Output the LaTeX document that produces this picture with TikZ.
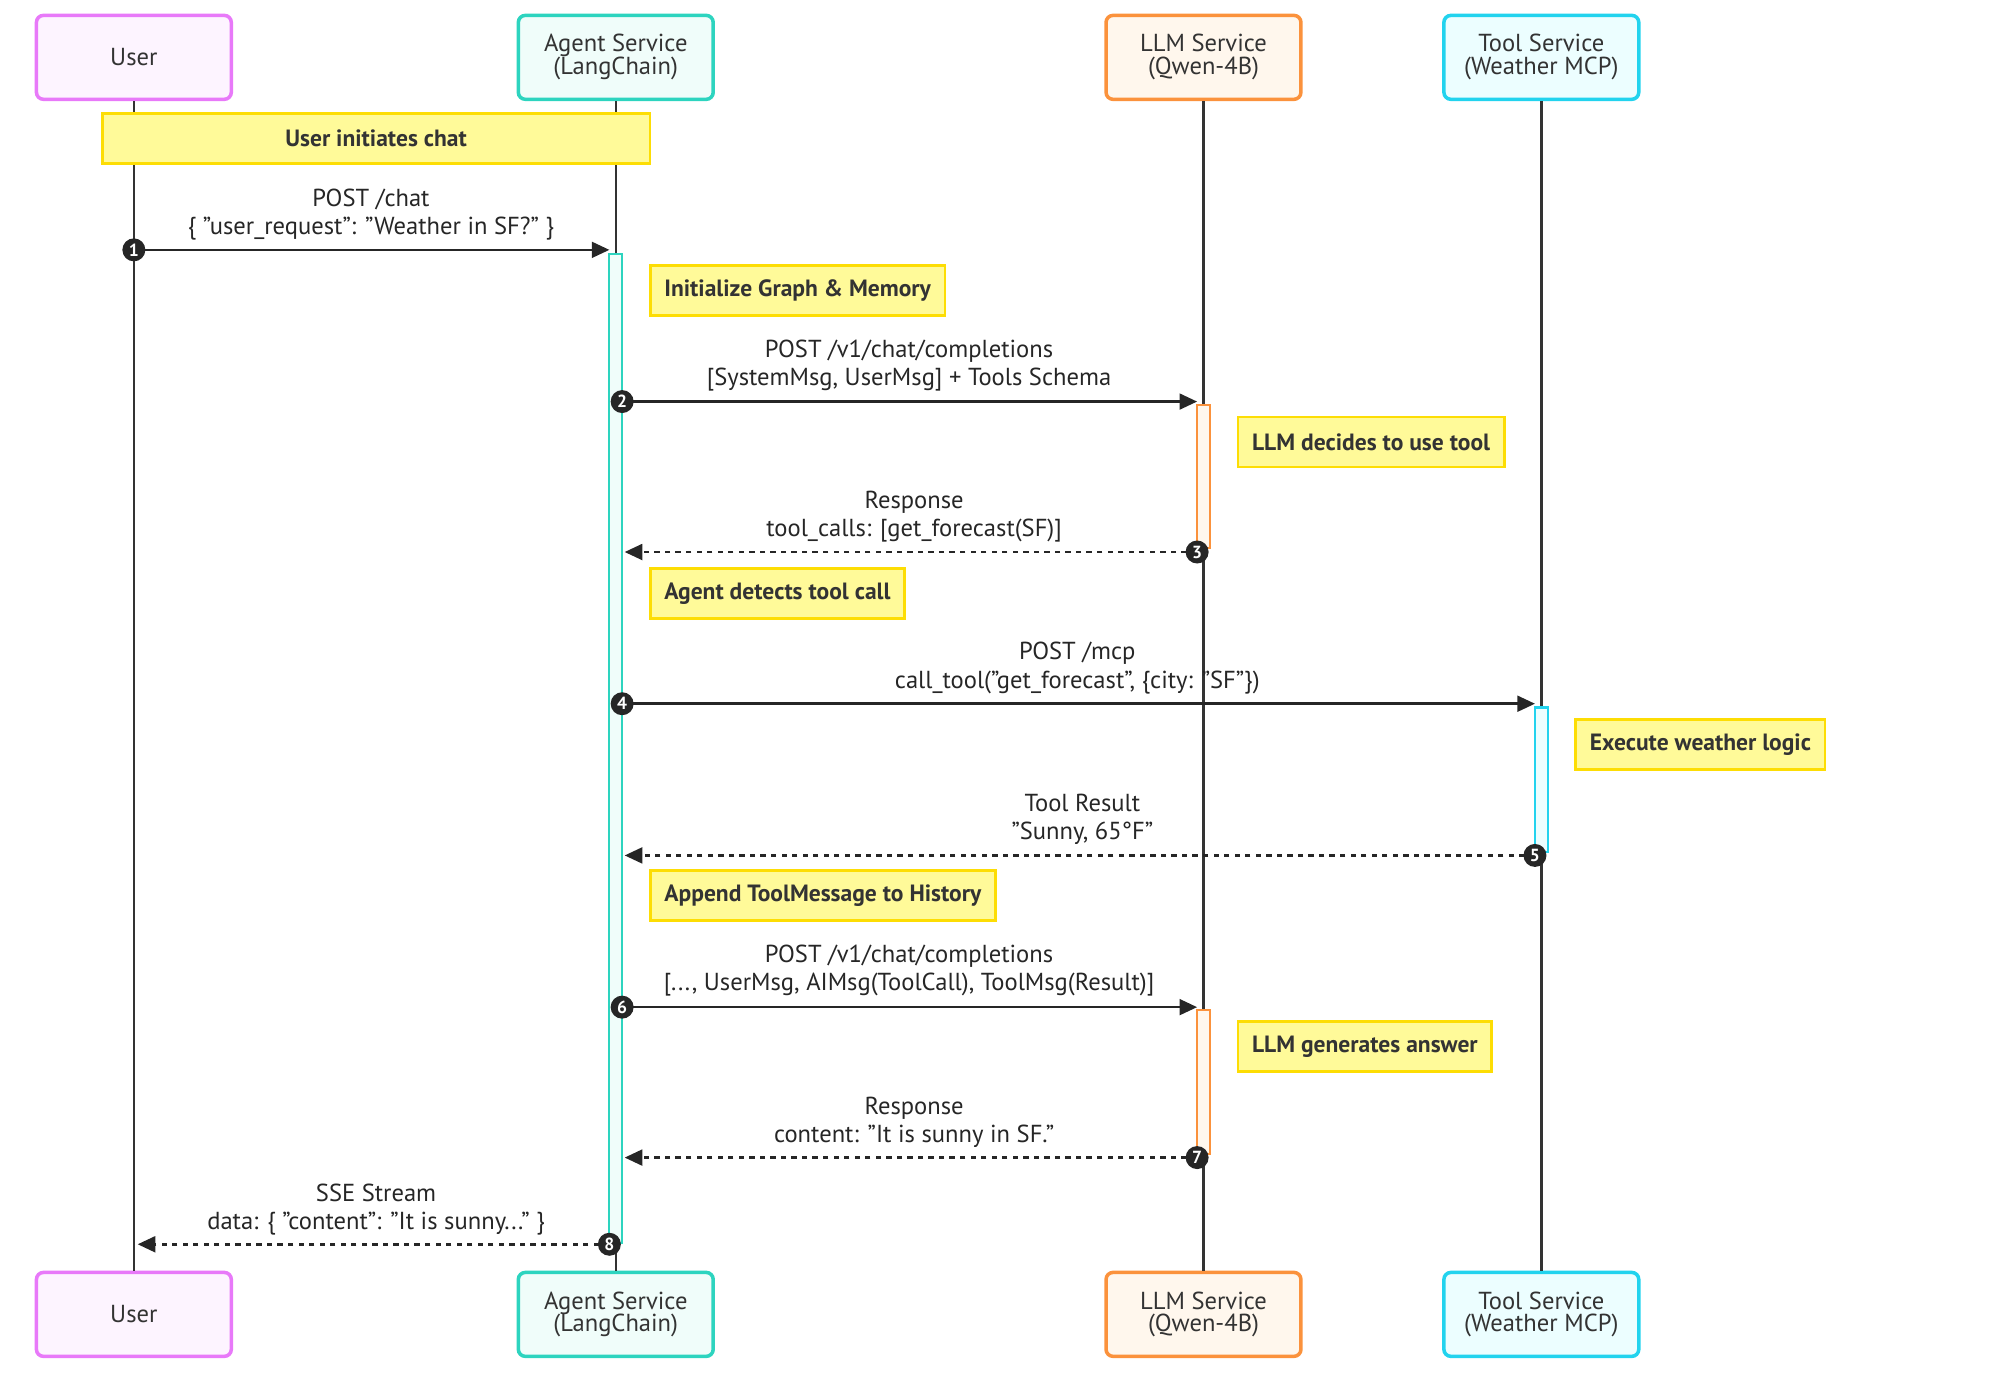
\documentclass[tikz,border=0pt]{standalone}
\usepackage{fontspec}
\defaultfontfeatures{}
\setmainfont{PT Sans}
\usetikzlibrary{positioning, arrows.meta, calc}
\newcommand{\dq}{{\char34}}

\begin{document}
\begin{tikzpicture}[
    x=0.01275cm, y=-0.01275cm,
    >={Triangle[length=5pt,width=4.5pt]},
    font=\fontsize{7}{8}\selectfont,
    actor/.style={rectangle, rounded corners=2pt, line width=1pt,
        minimum width=1.95cm, minimum height=0.84cm, align=center,
        text=black!80, font=\fontsize{7}{6.5}\selectfont},
    note/.style={rectangle, draw=yellow!80!orange, fill=yellow!40, line width=0.8pt,
        font=\fontsize{6.7}{8}\selectfont\bfseries, text=black!80,
        anchor=north west, minimum height=0.5cm, inner xsep=4pt},
    lifeline/.style={draw=black!80, line width=0.7pt},
    msg/.style={->, draw=black!85, line width=0.7pt},
    reply/.style={->, draw=black!85, line width=0.7pt, dash pattern=on 1.5pt off 1.5pt},
    num/.style={circle, fill=black!85, text=white, inner sep=0pt, minimum size=0.23cm,
        font=\fontsize{5}{5}\selectfont\bfseries},
    lbl/.style={align=center, font=\fontsize{7}{8}\selectfont, text=black!85},
]

% ── Colors ──
\definecolor{userborder}{HTML}{E879F9}
\definecolor{userfill}{HTML}{FDF4FF}
\definecolor{agentborder}{HTML}{2DD4BF}
\definecolor{agentfill}{HTML}{F0FDFA}
\definecolor{llmborder}{HTML}{FB923C}
\definecolor{llmfill}{HTML}{FFF7ED}
\definecolor{toolborder}{HTML}{22D3EE}
\definecolor{toolfill}{HTML}{ECFEFF}

\useasboundingbox (0,0) rectangle (1568,1085);

% ── Participants (top and bottom) ──
\node[actor, draw=userborder, fill=userfill] (user) at (105,45) {User};
\node[actor, draw=agentborder, fill=agentfill] (agent) at (483,45) {Agent Service\\(LangChain)};
\node[actor, draw=llmborder, fill=llmfill] (llm) at (944,45) {LLM Service\\(Qwen-4B)};
\node[actor, draw=toolborder, fill=toolfill] (tool) at (1209,45) {Tool Service\\(Weather MCP)};

\node[actor, draw=userborder, fill=userfill] (userb) at (105,1031) {User};
\node[actor, draw=agentborder, fill=agentfill] (agentb) at (483,1031) {Agent Service\\(LangChain)};
\node[actor, draw=llmborder, fill=llmfill] (llmb) at (944,1031) {LLM Service\\(Qwen-4B)};
\node[actor, draw=toolborder, fill=toolfill] (toolb) at (1209,1031) {Tool Service\\(Weather MCP)};

% ── Lifelines ──
\draw[lifeline] (user) -- (userb);
\draw[lifeline] (agent) -- (agentb);
\draw[lifeline] (llm) -- (llmb);
\draw[lifeline] (tool) -- (toolb);

% ── Activation bars ──
\draw[agentborder, fill=agentfill, line width=0.6pt] (478,199) rectangle (488,975);
\draw[llmborder, fill=llmfill, line width=0.6pt] (939,318) rectangle (949,430);
\draw[toolborder, fill=toolfill, line width=0.6pt] (1204,555) rectangle (1214,668);
\draw[llmborder, fill=llmfill, line width=0.6pt] (939,792) rectangle (949,905);

% ── Notes ──
\node[note, minimum width=4.3cm*1.275, anchor=north west] (n0) at (79,88) {User initiates chat};
\node[note] (n1) at (509,207) {Initialize Graph \& Memory};
\node[note] (n2) at (970,326) {LLM decides to use tool};
\node[note] (n3) at (509,445) {Agent detects tool call};
\node[note] (n4) at (1235,563) {Execute weather logic};
\node[note] (n5) at (509,682) {Append ToolMessage to History};
\node[note] (n6) at (970,800) {LLM generates answer};

% ── Message end points ──
\coordinate (m1a) at (105,196);  \coordinate (m1b) at (478,196);
\coordinate (m2a) at (488,315);  \coordinate (m2b) at (939,315);
\coordinate (m3a) at (939,433);  \coordinate (m3b) at (490,433);
\coordinate (m4a) at (488,552);  \coordinate (m4b) at (1204,552);
\coordinate (m5a) at (1204,671); \coordinate (m5b) at (490,671);
\coordinate (m6a) at (488,790);  \coordinate (m6b) at (939,790);
\coordinate (m7a) at (939,908);  \coordinate (m7b) at (490,908);
\coordinate (m8a) at (478,976);  \coordinate (m8b) at (108,976);

% ── Messages ──
\draw[msg] (m1a) -- (m1b);
\node[lbl] at (291,168) {POST /chat\\\{ \dq user\_request\dq: \dq Weather in SF?\dq\ \}};
\draw[msg] (m2a) -- (m2b);
\node[lbl] at (713,287) {POST /v1/chat/completions\\{[}SystemMsg, UserMsg{]} + Tools Schema};
\draw[reply] (m3a) -- (m3b);
\node[lbl] at (717,405) {Response\\tool\_calls: {[}get\_forecast(SF){]}};
\draw[msg] (m4a) -- (m4b);
\node[lbl] at (845,524) {POST /mcp\\call\_tool(\dq get\_forecast\dq, \{city: \dq SF\dq\})};
\draw[reply] (m5a) -- (m5b);
\node[lbl] at (849,643) {Tool Result\\\dq Sunny, 65°F\dq};
\draw[msg] (m6a) -- (m6b);
\node[lbl] at (713,761) {POST /v1/chat/completions\\{[}..., UserMsg, AIMsg(ToolCall), ToolMsg(Result){]}};
\draw[reply] (m7a) -- (m7b);
\node[lbl] at (717,880) {Response\\content: \dq It is sunny in SF.\dq};
\draw[reply] (m8a) -- (m8b);
\node[lbl] at (295,949) {SSE Stream\\data: \{ \dq content\dq: \dq It is sunny...\dq\ \}};

% ── Sequence numbers ──
\foreach \n/\p in {1/m1a, 2/m2a, 3/m3a, 4/m4a, 5/m5a, 6/m6a, 7/m7a, 8/m8a}
    \node[num] at (\p) {\n};

\end{tikzpicture}
\end{document}
